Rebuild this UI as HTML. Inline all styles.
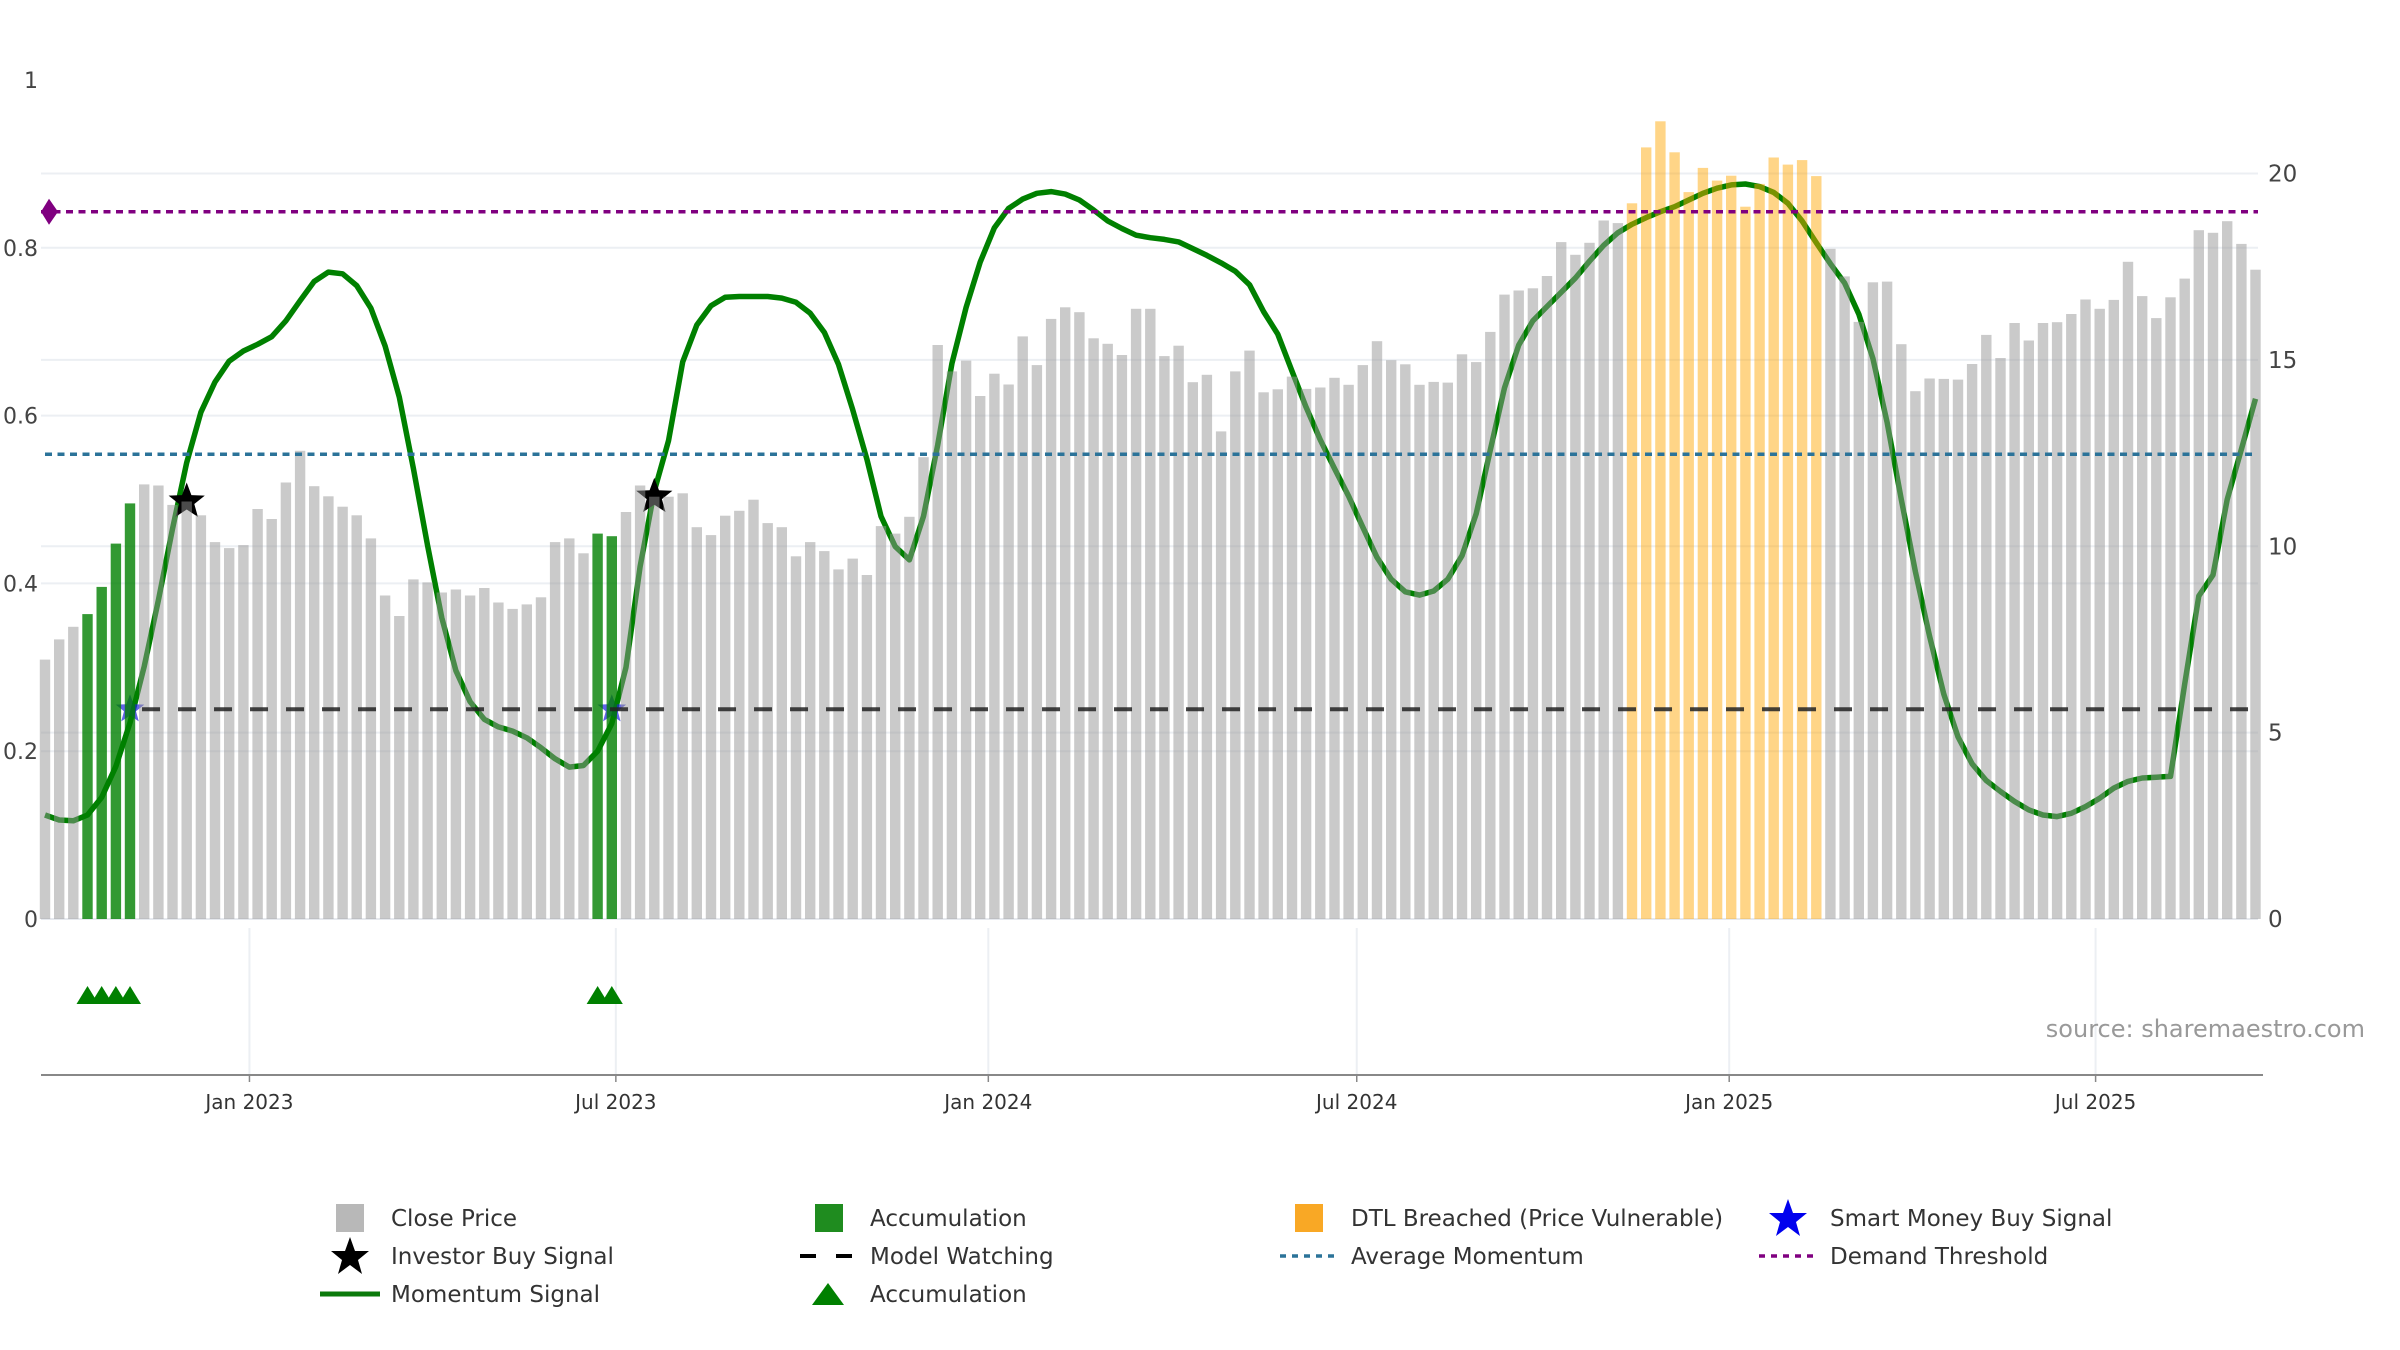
<!DOCTYPE html>
<html><head><meta charset="utf-8"><style>
html,body{margin:0;padding:0;background:#fff;}
svg{display:block;font-family:"DejaVu Sans","Liberation Sans",sans-serif;}
</style></head><body>
<svg id="chart" width="2400" height="1350" viewBox="0 0 2400 1350">
<g id="grid"></g>
<g id="momLayer"></g>
<g id="starLayer"></g>
<g id="barLayer"></g>
<g id="refLayer"></g>
<g id="axisLayer"></g>
<g id="lowerLayer"></g>
<text x="2365" y="1037" text-anchor="end" font-size="24" fill="#999">source: sharemaestro.com</text>
<g id="legend" font-size="23" fill="#333">
  <g><rect x="336" y="1204" width="28" height="28" fill="#b8b8b8"/><text x="391" y="1226">Close Price</text></g>
  <g><polygon points="350,1237 355,1251 369,1251 358,1260 362,1274 350,1265 338,1274 342,1260 331,1251 345,1251" fill="#000"/><text x="391" y="1264">Investor Buy Signal</text></g>
  <g><line x1="320" y1="1294" x2="380" y2="1294" stroke="#0b7a0b" stroke-width="5"/><text x="391" y="1302">Momentum Signal</text></g>
  <g><rect x="815" y="1204" width="28" height="28" fill="#1f8c1f"/><text x="870" y="1226">Accumulation</text></g>
  <g><line x1="800" y1="1256" x2="852" y2="1256" stroke="#000" stroke-width="4" stroke-dasharray="16 20"/><text x="870" y="1264">Model Watching</text></g>
  <g><polygon points="828,1283 844,1305 812,1305" fill="#008000"/><text x="870" y="1302">Accumulation</text></g>
  <g><rect x="1295" y="1204" width="28" height="28" fill="#f9a825"/><text x="1351" y="1226">DTL Breached (Price Vulnerable)</text></g>
  <g><line x1="1280" y1="1256" x2="1340" y2="1256" stroke="#2b7399" stroke-width="3.5" stroke-dasharray="6 6"/><text x="1351" y="1264">Average Momentum</text></g>
  <g><polygon points="1788,1199 1793,1213 1807,1213 1796,1222 1800,1236 1788,1227 1776,1236 1780,1222 1769,1213 1783,1213" fill="#0000ee"/><text x="1830" y="1226">Smart Money Buy Signal</text></g>
  <g><line x1="1759" y1="1256" x2="1818" y2="1256" stroke="#800080" stroke-width="3.5" stroke-dasharray="6 6"/><text x="1830" y="1264">Demand Threshold</text></g>
</g>
</svg>
<script>
const startDate = "2022-09-22";
const closePrice = [6.96,7.50,7.84,8.18,8.91,10.07,11.15,11.66,11.63,11.11,11.2,10.83,10.11,9.95,10.03,11.0,10.73,11.71,12.56,11.61,11.34,11.06,10.83,10.21,8.68,8.13,9.11,9.03,8.76,8.84,8.68,8.88,8.49,8.32,8.44,8.63,10.11,10.21,9.81,10.34,10.27,
10.92,11.63,11.33,11.33,11.42,10.51,10.30,10.82,10.95,11.25,10.62,10.51,9.73,10.11,9.87,9.38,9.67,9.23,10.54,10.34,10.79,12.39,
15.40,14.69,14.98,14.03,14.63,14.34,15.63,14.86,16.10,16.41,16.28,15.58,15.43,15.13,16.37,16.37,15.10,15.38,14.40,14.60,13.08,
14.69,15.25,14.13,14.21,14.55,14.22,14.26,14.52,14.33,14.86,15.50,14.99,14.88,14.33,14.41,14.39,15.15,14.94,15.75,16.75,16.86,16.92,17.25,18.16,17.82,18.14,18.74,18.67,
19.2,20.70,21.40,20.57,19.50,20.15,19.81,19.94,19.11,19.72,20.43,20.24,20.36,19.93,
17.98,17.24,16.02,17.08,17.10,15.42,14.16,14.50,14.49,14.47,14.89,15.67,15.05,15.99,15.52,15.99,16.01,16.23,16.62,16.37,16.61,17.63,16.71,16.12,16.68,17.18,18.48,18.41,18.72,18.11,17.42];
const momentum = [.124,.118,.117,.124,.145,.182,.234,.301,.380,.465,.544,.604,.640,.665,.677,.685,.694,.713,.737,.760,.771,.769,.755,.728,.683,.622,.537,.445,.359,.296,.259,.238,.229,.224,.216,.204,.191,.181,.183,.200,.233,.30,.42,.51,.57,.664,.708,.731,.741,.742,.742,.742,.740,.735,.722,.699,.661,.607,.548,.48,.444,.428,.48,.565,.662,.729,.783,.824,.847,.858,.865,.867,.864,.857,.845,.832,.823,.815,.812,.810,.807,.799,.791,.782,.772,.756,.724,.697,.653,.610,.571,.537,.504,.467,.431,.405,.390,.386,.391,.405,.433,.483,.559,.633,.684,.713,.730,.747,.764,.784,.803,.818,.828,.836,.843,.849,.857,.865,.871,.875,.876,.873,.866,.853,.832,.806,.781,.758,.721,.668,.592,.500,.414,.337,.268,.217,.185,.165,.152,.140,.130,.124,.122,.126,.134,.144,.156,.164,.168,.169,.17,.28,.385,.41,.50,.56,.62];
const accumulationWeeks = [4,5,6,7,40,41];
const dtlBreachedWeeks = [113,114,115,116,117,118,119,120,121,122,123,124,125,126];
const investorBuyWeeks = [11,44];
const smartMoneyWeeks = [7,41];
const demandThreshold = 0.843;
const averageMomentum = 0.554;
const modelWatching = 0.25;
const modelWatchingFromWeek = 7;
const tickDates = ["2023-01-01","2023-07-01","2024-01-01","2024-07-01","2025-01-01","2025-07-01"];
const tickLabels = ["Jan 2023","Jul 2023","Jan 2024","Jul 2024","Jan 2025","Jul 2025"];
const leftTicks = [0,0.2,0.4,0.6,0.8,1];
const leftTickLabels = ["0","0.2","0.4","0.6","0.8","1"];
const rightTicks = [0,5,10,15,20];
const rightTickLabels = ["0","5","10","15","20"];

const NS = "http://www.w3.org/2000/svg";
const X0 = 45, PXDAY = 14.17/7, BASE = 919, RUNIT = 37.275, LUNIT = 839;
const PL = 41, PR = 2258;
const t0 = Date.parse(startDate + "T00:00:00Z");
function xDate(s){ return X0 + (Date.parse(s + "T00:00:00Z") - t0)/86400000 * PXDAY; }
function xWeek(n){ return X0 + (n-1)*7*PXDAY; }
function yR(v){ return BASE - v*RUNIT; }
function yL(m){ return BASE - m*LUNIT; }
function mk(tag, attrs, parent){ const e=document.createElementNS(NS,tag); for(const k in attrs) e.setAttribute(k,attrs[k]); parent.appendChild(e); return e; }
function starPts(cx,cy,R){ const r=R*0.42; let p=[]; for(let i=0;i<10;i++){const a=-Math.PI/2+i*Math.PI/5; const rr=i%2?r:R; p.push((cx+rr*Math.cos(a)).toFixed(1)+","+(cy+rr*Math.sin(a)).toFixed(1));} return p.join(" "); }

const grid=document.getElementById("grid");
rightTicks.forEach(v=>{ if(v===0) return; const l=mk("line",{x1:PL,x2:PR,y1:yR(v),y2:yR(v),stroke:"#eceff3","stroke-width":2},grid);

 });
leftTicks.forEach(m=>{ if(m===0||m===1) return; const l=mk("line",{x1:PL,x2:PR,y1:yL(m),y2:yL(m),stroke:"#eceff3","stroke-width":2},grid);

 });
const zl=mk("line",{x1:PL,x2:PR,y1:BASE,y2:BASE,stroke:"#e6e9ee","stroke-width":2},grid);



const mom=document.getElementById("momLayer");
const pth=momentum.map((m,i)=>(i?"L":"M")+xWeek(i+1).toFixed(1)+","+yL(m).toFixed(1)).join(" ");
const ml=mk("path",{d:pth,fill:"none",stroke:"#008000","stroke-width":5.5,"stroke-linejoin":"round"},mom);



const sl=document.getElementById("starLayer");
investorBuyWeeks.forEach(w=>{ const s=mk("polygon",{points:starPts(xWeek(w),yR(closePrice[w-1]),19),fill:"#000"},sl);

 });
smartMoneyWeeks.forEach(w=>{ const s=mk("polygon",{points:starPts(xWeek(w),yL(modelWatching),15),fill:"#2020e0","fill-opacity":0.7},sl);

 });

const bl=document.getElementById("barLayer");
closePrice.forEach((v,i)=>{ const w=i+1; let fill="#969696", op=0.5, name="close-price-bar";
 if(accumulationWeeks.includes(w)){fill="#008000";op=0.8;name="accumulation-bar";}
 else if(dtlBreachedWeeks.includes(w)){fill="#ffa500";op=0.47;name="dtl-breached-bar";}
 const r=mk("rect",{x:(xWeek(w)-5.2).toFixed(1),y:yR(v).toFixed(1),width:10.4,height:(BASE-yR(v)).toFixed(1),fill:fill,"fill-opacity":op},bl);
 
  });

const rl=document.getElementById("refLayer");
const mw=mk("line",{x1:xWeek(modelWatchingFromWeek)+12,x2:xWeek(closePrice.length),y1:yL(modelWatching),y2:yL(modelWatching),stroke:"#222","stroke-opacity":0.85,"stroke-width":4,"stroke-dasharray":"18 18"},rl);


const am=mk("line",{x1:PL+4,x2:PR-2,y1:yL(averageMomentum),y2:yL(averageMomentum),stroke:"#2b7399","stroke-width":3.5,"stroke-dasharray":"7 5.5"},rl);


const dt=mk("line",{x1:PL,x2:PR,y1:yL(demandThreshold),y2:yL(demandThreshold),stroke:"#800080","stroke-width":3.5,"stroke-dasharray":"7 5.5"},rl);


const dy=yL(demandThreshold);
const dm=mk("polygon",{points:`${PL},${dy} ${PL+8},${dy-13} ${PL+17},${dy} ${PL+8},${dy+13}`,fill:"#800080"},rl);



const ax=document.getElementById("axisLayer");
leftTicks.forEach((m,i)=>{ const t=mk("text",{x:38,y:yL(m)+8,"text-anchor":"end","font-size":22,fill:"#444"},ax); t.textContent=leftTickLabels[i];

 });
rightTicks.forEach((v,i)=>{ const t=mk("text",{x:2268,y:yR(v)+8,"font-size":23,fill:"#444"},ax); t.textContent=rightTickLabels[i];

 });

const lw=document.getElementById("lowerLayer");
tickDates.forEach((d,i)=>{ const x=xDate(d);
 const g=mk("line",{x1:x,x2:x,y1:928,y2:1075,stroke:"#eceff3","stroke-width":2},lw);
 
 
 const tk=mk("line",{x1:x,x2:x,y1:1075,y2:1082,stroke:"#888","stroke-width":1.5},lw);
 
 
 const t=mk("text",{x:x,y:1109,"text-anchor":"middle","font-size":20,fill:"#333"},lw); t.textContent=tickLabels[i];
 
  });
const xa=mk("line",{x1:PL,x2:2263,y1:1075,y2:1075,stroke:"#888","stroke-width":2},lw);


accumulationWeeks.forEach(w=>{ const x=xWeek(w);
 const tr=mk("polygon",{points:`${x},${986} ${x+11},${1004} ${x-11},${1004}`,fill:"#008000"},lw);
 
  });
</script>
</body></html>
